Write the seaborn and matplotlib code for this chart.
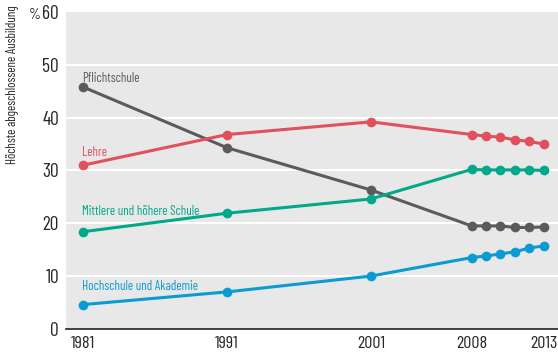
import matplotlib
matplotlib.use("Agg")
import matplotlib.pyplot as plt
from matplotlib import font_manager
import seaborn as sns
import pandas as pd

# Data
years = [1981, 1991, 2001, 2008, 2009, 2010, 2011, 2012, 2013]
pflichtschule = [45.8, 34.3, 26.3, 19.5, 19.5, 19.5, 19.2, 19.2, 19.3]
lehre = [31.0, 36.8, 39.2, 36.8, 36.5, 36.3, 35.8, 35.5, 35.0]
mittlere = [18.4, 21.9, 24.6, 30.2, 30.1, 30.1, 30.1, 30.1, 30.0]
hochschule = [4.6, 7.0, 10.0, 13.5, 13.8, 14.2, 14.6, 15.3, 15.7]

series_names = ["Pflichtschule", "Lehre", "Mittlere und höhere Schule", "Hochschule und Akademie"]
series_colors = ["#5b5b5d", "#e0505d", "#00a98a", "#0a9bd3"]
label_offsets = [0.95, 1.65, 3.15, 2.85]

tick_years = years
label_years = [1981, 1991, 2001, 2008, 2013]
yticks = [0, 10, 20, 30, 40, 50, 60]

df = pd.DataFrame({
    "Jahr": years * 4,
    "Wert": pflichtschule + lehre + mittlere + hochschule,
    "Reihe": [n for n in series_names for _ in years],
})

sns.set_style("white", {"axes.facecolor": "#e8e8e8"})

# pick a condensed face, the reference uses a narrow Futura-like font
installed = {f.name for f in font_manager.fontManager.ttflist}
wanted = ["Barlow Condensed", "Roboto Condensed", "Archivo Narrow", "PT Sans Narrow",
          "Liberation Sans Narrow", "Liberation Sans"]
narrow = next((f for f in wanted if f in installed), "DejaVu Sans")
plt.rcParams["font.family"] = [narrow, "DejaVu Sans"]

fig = plt.figure(figsize=(5.58, 3.54), dpi=100)
ax = fig.add_axes([0.118, 0.071, 0.882, 0.895])

for y in yticks[1:-1]:
    ax.axhline(y, color="white", lw=1.5, zorder=1)

sns.lineplot(data=df, x="Jahr", y="Wert", hue="Reihe", hue_order=series_names,
             palette=series_colors, marker="o", markersize=7, markeredgewidth=0,
             linewidth=2.2, legend=False, ax=ax, zorder=3)

for name, vals, col, off in zip(series_names, [pflichtschule, lehre, mittlere, hochschule],
                                series_colors, label_offsets):
    ax.text(years[0] - 0.1, vals[0] + off, name, color=col, fontsize=9.4,
            ha="left", va="baseline")

ax.set_xlim(1979.8, 2014.0)
ax.set_ylim(0, 60)
ax.set_yticks(yticks)
ax.set_xticks(tick_years)
ax.set_xticklabels([str(y) if y in label_years else "" for y in tick_years])
ax.tick_params(axis="x", direction="in", length=8, width=1, color="#222222",
               labelsize=13, pad=5)
ax.tick_params(axis="y", length=0, labelsize=14, pad=5)
for side in ["top", "right", "left"]:
    ax.spines[side].set_visible(False)
ax.spines["bottom"].set_color("#222222")
ax.spines["bottom"].set_linewidth(1.2)
ax.set_xlabel("")
ax.set_ylabel("")

fig.text(0.022, 0.985, "Höchste abgeschlossene Ausbildung", rotation=90,
         ha="center", va="top", fontsize=9.3)
fig.text(0.051, 0.957, "%", ha="left", va="center", fontsize=11)

fig.savefig("out.png", dpi=100)
